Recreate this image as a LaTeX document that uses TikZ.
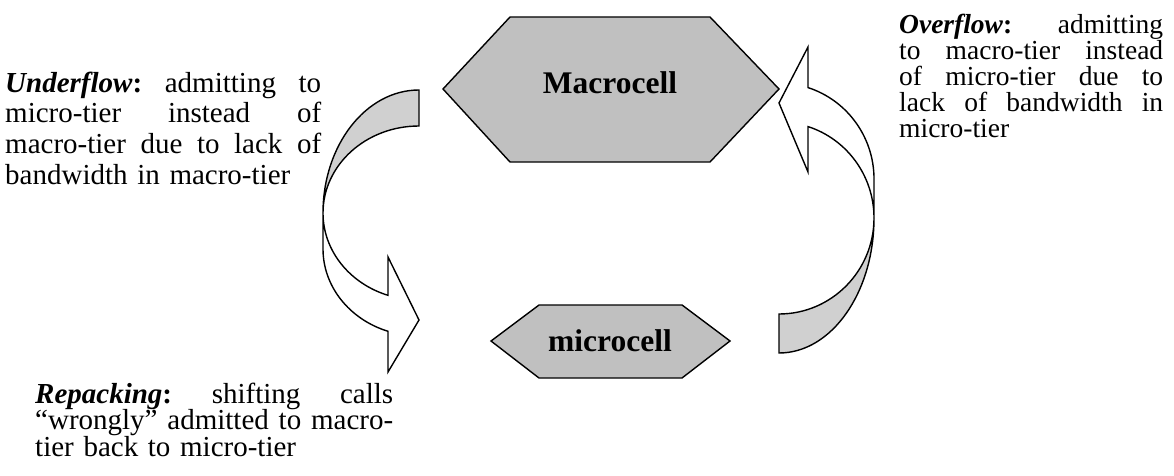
\documentclass[tikz,border=0pt]{standalone}
\usepackage{fontspec}
\setmainfont{Liberation Serif}
% one justified line of a given width (gaps marked with \gap)
\newcommand{\jline}[2]{\leavevmode\hbox to #1{#2}}
\newcommand{\gap}{\hspace{0pt plus 1fill}\ }
\begin{document}
\frenchspacing
\begin{tikzpicture}[x=1pt,y=-1pt,
  cellshape/.style={draw=black,line width=1.4pt,fill=cellgray,line join=miter},
  bandshape/.style={draw=black,line width=1.4pt,fill=bandgray,line join=miter},
  frontshape/.style={draw=black,line width=1.4pt,fill=white,line join=miter},
  celltext/.style={font=\fontsize{31.5}{34}\selectfont\bfseries,inner sep=0pt,anchor=base},
  notetext/.style={inner sep=0pt,anchor=base west,align=left}]
\definecolor{cellgray}{RGB}{192,192,192}
\definecolor{bandgray}{RGB}{208,208,208}
\useasboundingbox (0,0) rectangle (1174,476);

% cells
\draw[cellshape] (443,89) -- (510,17) -- (710,17) -- (779,89) -- (710,162) -- (510,162) -- cycle;
\draw[cellshape] (491,341) -- (539,305) -- (682,305) -- (730,341) -- (682,378) -- (539,378) -- cycle;
\node[celltext] (macro) at (610,94) {Macrocell};
\node[celltext] (micro) at (610,351.5) {microcell};

% left curved arrow (underflow / repacking)
\draw[bandshape] (419,90) arc[start angle=270,end angle=180,x radius=96,y radius=123]
  arc[start angle=180,end angle=270,x radius=96,y radius=87] -- cycle;
\draw[frontshape] (323,213) arc[start angle=180,end angle=108.84,x radius=96,y radius=87]
  -- (388,257) -- (419,320) -- (388,372) -- (388,331.3)
  arc[start angle=108.84,end angle=180,x radius=96,y radius=87] -- cycle;

% right curved arrow (overflow)
\draw[bandshape] (779,353) arc[start angle=90,end angle=0,x radius=95,y radius=135]
  arc[start angle=0,end angle=90,x radius=95,y radius=96] -- cycle;
\draw[frontshape] (874,218) arc[start angle=0,end angle=-72.23,x radius=95,y radius=96]
  -- (808,172) -- (779,103) -- (808,47) -- (808,87.6)
  arc[start angle=-72.23,end angle=0,x radius=95,y radius=96] -- cycle;

% notes
\node[notetext,text width=316pt,font=\fontsize{29}{30.5}\selectfont] (under) at (5,92.5)
  {\jline{316pt}{\textbf{\textit{Underflow}:}\gap admitting\gap to}\\
   \jline{316pt}{micro-tier\gap instead\gap of}\\
   \jline{316pt}{macro-tier\gap due\gap to\gap lack\gap of}\\
   bandwidth in macro-tier};
\node[notetext,text width=264pt,font=\fontsize{27.5}{25.8}\selectfont] (over) at (899,34)
  {\jline{264pt}{\textbf{\textit{Overflow}:}\gap admitting}\\
   \jline{264pt}{to\gap macro-tier\gap instead}\\
   \jline{264pt}{of\gap micro-tier\gap due\gap to}\\
   \jline{264pt}{lack\gap of\gap bandwidth\gap in}\\
   micro-tier};
\node[notetext,text width=358pt,font=\fontsize{29}{26.5}\selectfont] (repack) at (35,403)
  {\jline{358pt}{\textbf{\textit{Repacking}:}\gap shifting\gap calls}\\
   \jline{358pt}{“wrongly”\gap admitted\gap to\gap macro-}\\
   tier back to micro-tier};
\end{tikzpicture}
\end{document}
